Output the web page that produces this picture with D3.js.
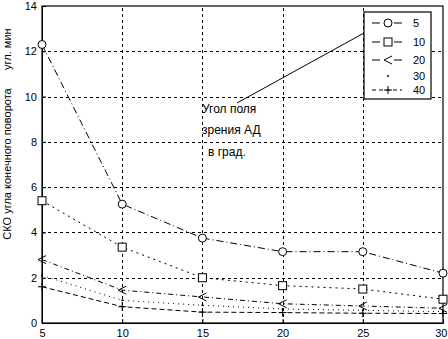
<!DOCTYPE html>
<html>
<head>
<meta charset="utf-8">
<script src="https://cdn.jsdelivr.net/npm/d3@7"></script>
<style>
  body { margin: 0; background: #fff; }
  svg { display: block; font-family: "Liberation Sans", Arial, sans-serif; }
</style>
</head>
<body>
<div class="container"></div>
<script>
  const xValues = [5, 10, 15, 20, 25, 30];
  const seriesNames = ['5', '10', '20', '30', '40'];
  const s5 = [12.3, 5.25, 3.75, 3.15, 3.15, 2.2];
  const s10 = [5.4, 3.35, 2.0, 1.65, 1.5, 1.05];
  const s20 = [2.8, 1.45, 1.15, 0.85, 0.75, 0.65];
  const s30 = [2.1, 1.0, 0.78, 0.62, 0.56, 0.5];
  const s40 = [1.6, 0.72, 0.48, 0.46, 0.43, 0.42];
  const xTicks = [5, 10, 15, 20, 25, 30];
  const yTicks = [0, 2, 4, 6, 8, 10, 12, 14];

  const svgWidth = 448;
  const svgHeight = 339;
  const margin = { left: 42, right: 5, top: 6, bottom: 16 };

  const svg = d3.select('.container')
    .append('svg')
    .attr('width', svgWidth)
    .attr('height', svgHeight);

  const x = d3.scaleLinear().domain([5, 30]).range([margin.left, svgWidth - margin.right]);
  const y = d3.scaleLinear().domain([0, 14]).range([svgHeight - margin.bottom, margin.top]);

  // Grid
  const grid = svg.append('g').attr('stroke', '#000').attr('stroke-width', 1).attr('stroke-dasharray', '3,3');
  grid.selectAll('.gx')
    .data(xTicks.slice(1, -1))
    .enter()
    .append('line')
    .attr('x1', d => Math.round(x(d)) + 0.5)
    .attr('x2', d => Math.round(x(d)) + 0.5)
    .attr('y1', y(0))
    .attr('y2', y(14));
  grid.selectAll('.gy')
    .data(yTicks.slice(1, -1))
    .enter()
    .append('line')
    .attr('y1', d => Math.round(y(d)) + 0.5)
    .attr('y2', d => Math.round(y(d)) + 0.5)
    .attr('x1', x(5))
    .attr('x2', x(30));

  // Axes
  const xAxis = svg.append('g')
    .attr('transform', `translate(0, ${y(0)})`)
    .call(d3.axisBottom(x).tickValues(xTicks).tickSizeInner(-4).tickSizeOuter(0).tickPadding(6));
  const yAxis = svg.append('g')
    .attr('transform', `translate(${x(5)}, 0)`)
    .call(d3.axisLeft(y).tickValues(yTicks).tickSizeInner(-4).tickSizeOuter(0).tickPadding(5));
  [xAxis, yAxis].forEach(a => {
    a.selectAll('text').attr('font-size', 11).attr('fill', '#000');
    a.selectAll('line, path').attr('stroke', '#000');
  });
  // keep the last label inside the window
  xAxis.selectAll('text').filter(d => d === 30).attr('text-anchor', 'end').attr('dx', 4);

  // Frame
  svg.append('rect')
    .attr('x', x(5))
    .attr('y', y(14))
    .attr('width', x(30) - x(5))
    .attr('height', y(0) - y(14))
    .attr('fill', 'none')
    .attr('stroke', '#000')
    .attr('stroke-width', 1.2);

  // Series
  const series = [
    { name: seriesNames[0], values: s5, dash: '7,3,1,3', marker: 'circle' },
    { name: seriesNames[1], values: s10, dash: '2,4', marker: 'square' },
    { name: seriesNames[2], values: s20, dash: '5,3,1,3', marker: 'triangle' },
    { name: seriesNames[3], values: s30, dash: '1,4', marker: 'point' },
    { name: seriesNames[4], values: s40, dash: '5,3', marker: 'cross' }
  ];

  const line = d3.line().x(d => x(d[0])).y(d => y(d[1]));

  function drawMarker(g, type, cx, cy) {
    if (type === 'circle') {
      g.append('circle').attr('cx', cx).attr('cy', cy).attr('r', 4)
        .attr('fill', '#fff').attr('stroke', '#000');
    } else if (type === 'square') {
      g.append('rect').attr('x', cx - 4).attr('y', cy - 4).attr('width', 8).attr('height', 8)
        .attr('fill', '#fff').attr('stroke', '#000');
    } else if (type === 'triangle') {
      g.append('path').attr('d', `M${cx + 4},${cy - 4}L${cx - 4},${cy}L${cx + 4},${cy + 4}`)
        .attr('fill', 'none').attr('stroke', '#000');
    } else if (type === 'point') {
      g.append('circle').attr('cx', cx).attr('cy', cy).attr('r', 1).attr('fill', '#000');
    } else if (type === 'cross') {
      g.append('path').attr('d', `M${cx - 4},${cy}H${cx + 4}M${cx},${cy - 4}V${cy + 4}`)
        .attr('stroke', '#000');
    }
  }

  series.forEach(s => {
    const pts = xValues.map((v, i) => [v, s.values[i]]);
    svg.append('path')
      .datum(pts)
      .attr('d', line)
      .attr('fill', 'none')
      .attr('stroke', '#000')
      .attr('stroke-width', 1)
      .attr('stroke-dasharray', s.dash);
    const mg = svg.append('g');
    pts.forEach(p => drawMarker(mg, s.marker, x(p[0]), y(p[1])));
  });

  // Legend
  const legendX = 364;
  const legendY = 12;
  const legend = svg.append('g').attr('id', 'legend');
  legend.append('rect')
    .attr('x', legendX).attr('y', legendY)
    .attr('width', 67).attr('height', 87)
    .attr('fill', '#fff').attr('stroke', '#000').attr('stroke-width', 1.2);
  const legendRows = [23, 42, 60, 76, 90];
  series.forEach((s, i) => {
    const ly = legendRows[i];
    legend.append('line')
      .attr('x1', legendX + 8).attr('x2', legendX + 38)
      .attr('y1', ly).attr('y2', ly)
      .attr('stroke', '#000')
      .attr('stroke-dasharray', s.name === '30' ? '0,30' : (s.name === '40' ? '4,3' : '8,14'));
    drawMarker(legend, s.marker, legendX + 24, ly);
    legend.append('text')
      .attr('x', legendX + 49).attr('y', ly + 4)
      .attr('font-size', 11)
      .text(s.name);
  });

  // Annotation
  svg.append('line')
    .attr('x1', 237).attr('y1', 103)
    .attr('x2', legendX).attr('y2', 33)
    .attr('stroke', '#000').attr('stroke-width', 1);
  const ann = ['Угол поля', 'зрения АД', 'в град.'];
  svg.selectAll('.ann')
    .data(ann)
    .enter()
    .append('text')
    .attr('x', (d, i) => i === 2 ? 208 : 202)
    .attr('y', (d, i) => [113, 134, 156][i])
    .attr('font-size', 12)
    .text(d => d);

  // Y label
  svg.append('text')
    .attr('transform', `translate(11, 134) rotate(-90)`)
    .attr('text-anchor', 'middle')
    .attr('font-size', 11)
    .attr('xml:space', 'preserve')
    .text('СКО угла конечного поворота      угл. мин');
</script>
</body>
</html>
